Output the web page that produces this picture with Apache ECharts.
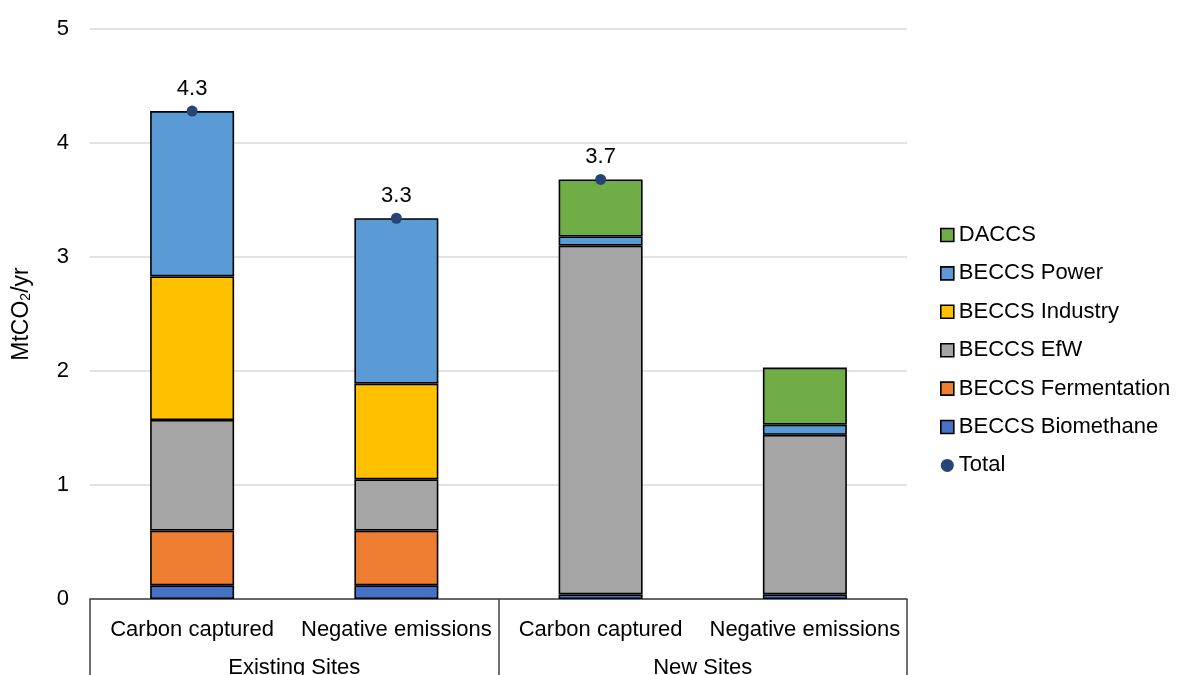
<!DOCTYPE html>
<html>
<head>
<meta charset="utf-8">
<script src="https://cdn.jsdelivr.net/npm/echarts@6/dist/echarts.min.js"></script>
<style>
  html, body { margin: 0; padding: 0; background: #fff; }
  #chart { width: 1184px; height: 675px; }
</style>
</head>
<body>
<div id="chart"></div>
<script>
// Capture volumes by site group (MtCO2/yr)
const categories = ['Carbon captured', 'Negative emissions', 'Carbon captured', 'Negative emissions'];
const groups = ['Existing Sites', 'New Sites'];
const yTicks = [0, 1, 2, 3, 4, 5];

const beccsBiomethane   = [0.12, 0.12, 0.04, 0.04];
const beccsFermentation = [0.48, 0.48, null, null];
const beccsEfW          = [0.97, 0.45, 3.06, 1.40];
const beccsIndustry     = [1.26, 0.84, null, null];
const beccsPower        = [1.45, 1.45, 0.08, 0.09];
const daccs             = [null, null, 0.50, 0.50];
const total             = [4.28, 3.34, 3.68, null];

const FONT = 'Liberation Sans, Arial, sans-serif';
const TEXT = '#000000';
const FS = 22;

function stackSeries(name, data, color) {
  return {
    name: name,
    type: 'bar',
    stack: 'all',
    data: data,
    barWidth: 84,
    itemStyle: { color: color, borderColor: '#000', borderWidth: 1.6 },
    emphasis: { disabled: true }
  };
}

const chart = echarts.init(document.getElementById('chart'), null, { renderer: 'canvas' });

chart.setOption({
  animation: false,
  backgroundColor: '#ffffff',
  textStyle: { fontFamily: FONT },
  grid: { left: 90, right: 277, top: 29, bottom: 76, containLabel: false, outerBoundsMode: 'none' },
  legend: {
    orient: 'vertical',
    left: 940,
    top: 224,
    padding: 0,
    itemWidth: 13,
    itemHeight: 13,
    itemGap: 16.4,
    textStyle: { fontFamily: FONT, fontSize: FS, color: TEXT },
    itemStyle: { borderColor: '#000', borderWidth: 1.6 },
    data: [
      { name: 'DACCS', icon: 'rect' },
      { name: 'BECCS Power', icon: 'rect' },
      { name: 'BECCS Industry', icon: 'rect' },
      { name: 'BECCS EfW', icon: 'rect' },
      { name: 'BECCS Fermentation', icon: 'rect' },
      { name: 'BECCS Biomethane', icon: 'rect' },
      { name: 'Total', icon: 'circle', itemStyle: { borderWidth: 0 } }
    ]
  },
  xAxis: [
    {
      type: 'category',
      data: categories,
      position: 'bottom',
      axisLine: { show: true, lineStyle: { color: '#404040', width: 1.5 } },
      axisTick: { show: false },
      axisLabel: { fontFamily: FONT, fontSize: FS, color: TEXT, margin: 20, interval: 0 }
    },
    {
      type: 'category',
      data: groups,
      position: 'bottom',
      axisLine: { show: false },
      axisTick: { show: true, length: 80, lineStyle: { color: '#404040', width: 1.5 } },
      axisLabel: { fontFamily: FONT, fontSize: FS, color: TEXT, margin: 58, interval: 0 },
      splitLine: { show: false }
    }
  ],
  yAxis: {
    type: 'value',
    min: yTicks[0],
    max: yTicks[yTicks.length - 1],
    interval: 1,
    name: 'MtCO{sub|2}/yr',
    nameLocation: 'middle',
    nameRotate: 90,
    nameGap: 57,
    nameTextStyle: {
      fontFamily: FONT, fontSize: 23, color: TEXT,
      rich: { sub: { fontFamily: FONT, fontSize: 14, color: TEXT, verticalAlign: 'bottom', padding: [7, 0, 0, 0] } }
    },
    axisLine: { show: false },
    axisTick: { show: false },
    axisLabel: { fontFamily: FONT, fontSize: FS, color: TEXT, margin: 21 },
    splitLine: { lineStyle: { color: '#d9d9d9', width: 1.5 } }
  },
  series: [
    stackSeries('BECCS Biomethane', beccsBiomethane, '#4472C4'),
    stackSeries('BECCS Fermentation', beccsFermentation, '#ED7D31'),
    stackSeries('BECCS EfW', beccsEfW, '#A5A5A5'),
    stackSeries('BECCS Industry', beccsIndustry, '#FFC000'),
    stackSeries('BECCS Power', beccsPower, '#5B9BD5'),
    stackSeries('DACCS', daccs, '#70AD47'),
    {
      name: 'Total',
      type: 'scatter',
      data: total,
      symbol: 'circle',
      symbolSize: 11,
      z: 5,
      itemStyle: { color: '#264478', opacity: 1 },
      label: {
        show: true,
        position: 'top',
        distance: 6,
        fontFamily: FONT,
        fontSize: FS,
        color: TEXT,
        formatter: p => p.value.toFixed(1)
      },
      emphasis: { disabled: true }
    }
  ]
});
</script>
</body>
</html>
